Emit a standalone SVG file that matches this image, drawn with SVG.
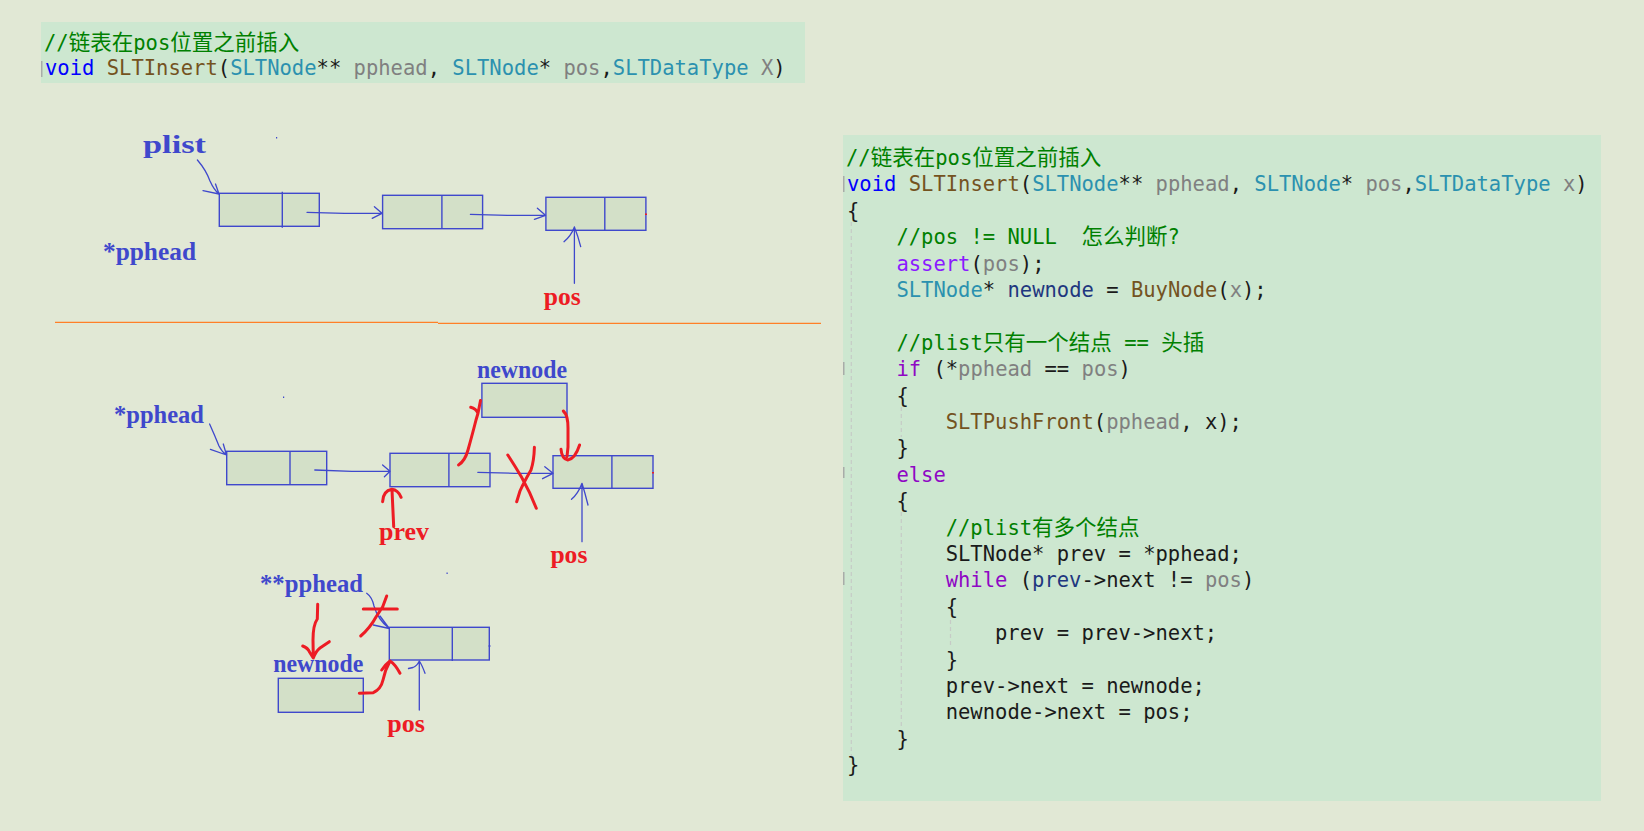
<svg xmlns="http://www.w3.org/2000/svg" width="1644" height="831" viewBox="0 0 1644 831">
<style>
.code{font-family:"DejaVu Sans Mono","Noto Sans CJK SC",monospace;font-size:20.5px;fill:#1a1a1a}
.cjk{font-family:"Noto Sans CJK SC",sans-serif;font-size:21.5px}
.cm{fill:#008000}.kw{fill:#0000ff}.ctl{fill:#8f08c4}.mac{fill:#8a1bff}.ty{fill:#2b91af}.fn{fill:#74531f}.pa{fill:#808080}.lo{fill:#1f377f}
.lbl{font-family:"Liberation Serif",serif;font-weight:bold;font-size:25px}
.blue{fill:#3f48cc}.red{fill:#ed1c24}
.node{fill:#d3e0c8;stroke:#3f48cc;stroke-width:1.4}
.div{stroke:#3f48cc;stroke-width:1.4}
.bl{fill:none;stroke:#3f48cc;stroke-width:1.3;stroke-linecap:round;stroke-linejoin:round}
.rd{fill:none;stroke:#ed1c24;stroke-width:3;stroke-linecap:round;stroke-linejoin:round}
.guide{stroke:#c6cbc6;stroke-width:1.2;stroke-dasharray:4 3}
.tick{fill:#a8aca8}
</style>
<rect width="1644" height="831" fill="#e1e8d5"/>

<!-- top-left code box -->
<g id="code-top">
<rect x="41" y="22" width="764" height="61" fill="#cde7d0"/>
<rect class="tick" x="41" y="61" width="1.5" height="16"/>
<text class="code" x="44" y="49.5" xml:space="preserve"><tspan class="cm">//<tspan class="cjk">链表在</tspan>pos<tspan class="cjk">位置之前插入</tspan></tspan></text>
<text class="code" x="45" y="75" xml:space="preserve"><tspan class="kw">void</tspan> <tspan class="fn">SLTInsert</tspan>(<tspan class="ty">SLTNode</tspan>** <tspan class="pa">pphead</tspan>, <tspan class="ty">SLTNode</tspan>* <tspan class="pa">pos</tspan>,<tspan class="ty">SLTDataType</tspan> <tspan class="pa">X</tspan>)</text>
</g>

<!-- right code box -->
<g id="code-right">
<rect x="843" y="135" width="758" height="666" fill="#cde7d0"/>
<line class="guide" x1="851.3" y1="222" x2="851.3" y2="756"/>
<line class="guide" x1="901.3" y1="407" x2="901.3" y2="437"/>
<line class="guide" x1="901.3" y1="512" x2="901.3" y2="728"/>
<line class="guide" x1="950.5" y1="620" x2="950.5" y2="645"/>
<rect class="tick" x="843" y="176" width="1.5" height="16"/>
<rect class="tick" x="843" y="362" width="1.5" height="13"/>
<rect class="tick" x="843" y="467" width="1.5" height="11"/>
<rect class="tick" x="843" y="572" width="1.5" height="13"/>
<text class="code" xml:space="preserve">
<tspan x="846" y="165" class="cm">//<tspan class="cjk">链表在</tspan>pos<tspan class="cjk">位置之前插入</tspan></tspan>
<tspan x="847" y="191.4"><tspan class="kw">void</tspan> <tspan class="fn">SLTInsert</tspan>(<tspan class="ty">SLTNode</tspan>** <tspan class="pa">pphead</tspan>, <tspan class="ty">SLTNode</tspan>* <tspan class="pa">pos</tspan>,<tspan class="ty">SLTDataType</tspan> <tspan class="pa">x</tspan>)</tspan>
<tspan x="847" y="217.8">{</tspan>
<tspan x="896.4" y="244.2" class="cm">//pos != NULL  <tspan class="cjk">怎么判断</tspan>?</tspan>
<tspan x="896.4" y="270.6"><tspan class="mac">assert</tspan>(<tspan class="pa">pos</tspan>);</tspan>
<tspan x="896.4" y="297"><tspan class="ty">SLTNode</tspan>* <tspan class="lo">newnode</tspan> = <tspan class="fn">BuyNode</tspan>(<tspan class="pa">x</tspan>);</tspan>
<tspan x="896.4" y="349.8" class="cm">//plist<tspan class="cjk">只有一个结点</tspan> == <tspan class="cjk">头插</tspan></tspan>
<tspan x="896.4" y="376.2"><tspan class="ctl">if</tspan> (*<tspan class="pa">pphead</tspan> == <tspan class="pa">pos</tspan>)</tspan>
<tspan x="896.4" y="402.6">{</tspan>
<tspan x="945.7" y="429"><tspan class="fn">SLTPushFront</tspan>(<tspan class="pa">pphead</tspan>, x);</tspan>
<tspan x="896.4" y="455.4">}</tspan>
<tspan x="896.4" y="481.8" class="ctl">else</tspan>
<tspan x="896.4" y="508.2">{</tspan>
<tspan x="945.7" y="534.6" class="cm">//plist<tspan class="cjk">有多个结点</tspan></tspan>
<tspan x="945.7" y="561">SLTNode* prev = *pphead;</tspan>
<tspan x="945.7" y="587.4"><tspan class="ctl">while</tspan> (<tspan class="lo">prev</tspan>-&gt;next != <tspan class="pa">pos</tspan>)</tspan>
<tspan x="945.7" y="613.8">{</tspan>
<tspan x="995" y="640.2">prev = prev-&gt;next;</tspan>
<tspan x="945.7" y="666.6">}</tspan>
<tspan x="945.7" y="693">prev-&gt;next = newnode;</tspan>
<tspan x="945.7" y="719.4">newnode-&gt;next = pos;</tspan>
<tspan x="896.4" y="745.8">}</tspan>
<tspan x="847" y="772.2">}</tspan>
</text>
</g>

<!-- separator -->
<g id="separator">
<line x1="55" y1="322.3" x2="438" y2="322.3" stroke="#ff7f27" stroke-width="1.3"/>
<line x1="438" y1="323.3" x2="821" y2="323.3" stroke="#ff7f27" stroke-width="1.3"/>
</g>

<!-- top diagram nodes -->
<g id="t-node1"><rect class="node" x="219.3" y="193.3" width="100" height="33"/><line class="div" x1="282.3" y1="191.7" x2="282.3" y2="227.7"/></g>
<g id="t-node2"><rect class="node" x="382.6" y="195.3" width="100" height="33.4"/><line class="div" x1="441.9" y1="195.3" x2="441.9" y2="228.7"/></g>
<g id="t-node3"><rect class="node" x="545.9" y="197.3" width="100" height="33"/><line class="div" x1="604.8" y1="197.3" x2="604.8" y2="230.3"/><rect x="645" y="213.5" width="2" height="1.5" fill="#ed1c24"/></g>
<g id="t-labels">
<text class="lbl blue" x="143" y="153" textLength="63" lengthAdjust="spacingAndGlyphs">plist</text>
<text class="lbl blue" x="103" y="260" textLength="93" lengthAdjust="spacingAndGlyphs">*pphead</text>
<text class="lbl red" x="543.7" y="305" textLength="37" lengthAdjust="spacingAndGlyphs">pos</text>
<rect x="276" y="137" width="1.2" height="1.5" fill="#3f48cc"/>
</g>

<!-- middle diagram nodes -->
<g id="m-nodeA"><rect class="node" x="226.7" y="451.3" width="100" height="33.4"/><line class="div" x1="290" y1="451.3" x2="290" y2="484.7"/></g>
<g id="m-nodeB"><rect class="node" x="390" y="453.3" width="100" height="33.4"/><line class="div" x1="448.9" y1="453.3" x2="448.9" y2="486.7"/></g>
<g id="m-nodeC"><rect class="node" x="553" y="455.7" width="100" height="32.6"/><line class="div" x1="611.9" y1="455.7" x2="611.9" y2="488.3"/><rect x="652" y="472" width="2" height="1.5" fill="#ed1c24"/></g>
<g id="m-newnode"><rect class="node" x="481.9" y="383.3" width="85.1" height="34"/></g>
<g id="m-labels">
<text class="lbl blue" x="477" y="377.5" textLength="90" lengthAdjust="spacingAndGlyphs">newnode</text>
<text class="lbl blue" x="114" y="422.5" textLength="90" lengthAdjust="spacingAndGlyphs">*pphead</text>
<text class="lbl red" x="379" y="540" textLength="50" lengthAdjust="spacingAndGlyphs">prev</text>
<text class="lbl red" x="550.4" y="562.5" textLength="37" lengthAdjust="spacingAndGlyphs">pos</text>
<rect x="283" y="396.5" width="1.2" height="1.5" fill="#3f48cc"/>
<rect x="446.5" y="572.5" width="1.2" height="1.5" fill="#3f48cc"/>
</g>

<!-- bottom diagram nodes -->
<g id="b-node"><rect class="node" x="389.3" y="627.3" width="100" height="32.7"/><line class="div" x1="452.3" y1="627.3" x2="452.3" y2="661"/><line class="div" x1="488.5" y1="646" x2="490.5" y2="646"/></g>
<g id="b-newnode"><rect class="node" x="278.3" y="678.3" width="85" height="34"/></g>
<g id="b-labels">
<text class="lbl blue" x="260" y="592.3" textLength="103" lengthAdjust="spacingAndGlyphs">**pphead</text>
<text class="lbl blue" x="273.3" y="672" textLength="90" lengthAdjust="spacingAndGlyphs">newnode</text>
<text class="lbl red" x="387.3" y="731.7" textLength="37.7" lengthAdjust="spacingAndGlyphs">pos</text>
</g>

<!-- connectors -->
<g id="connectors">
<!-- top -->
<path class="bl" d="M197.4,160 Q206,170 210,181 Q214,190 219,194 M203,190.7 L219,194 L215.5,184"/>
<path class="bl" d="M307,212.3 L344.4,213.3 L382,213.3 M374.4,206.7 L382,213.3 L372.2,218.3"/>
<path class="bl" d="M470.4,214.3 L507.4,215.3 L545.5,215.3 M537.4,208.3 L545.5,215.3 L534.4,219.3"/>
<path class="bl" d="M574.4,283.3 L574.4,227 M564,241.7 Q571,236 574.4,227 Q578,236 580.7,246.7"/>
<!-- middle -->
<path class="bl" d="M209.6,424 Q215,436 219,446 Q222,452 226.5,455 M210.4,449.3 L226.5,455 L223.3,444"/>
<path class="bl" d="M314.8,470 L351.9,471.3 L390,471.3 M382.6,465 L390,471.3 L384.4,476.7"/>
<path class="bl" d="M477.8,472.3 L514.8,473.3 L553,473.3 M544.8,466.7 L553,473.3 L542.6,478.7"/>
<path class="bl" d="M582,541.7 L582,483.3 M571.5,499.3 Q578,494 582,483.3 Q585,493 588,505"/>
<!-- bottom -->
<path class="bl" d="M366.7,593.3 Q372,597 374,606 Q378,620 389.3,628.5 M373.3,625 L389.3,628.5 M380,616 L389.3,628.5"/>
<path class="bl" d="M419.3,710 L419.3,661 M408.5,668.5 L413,667.5 Q417,666 419.3,661 Q422,665 425,673.3"/>
<!-- red marks -->
<path class="rd" d="M393.7,526.7 L392,490 M382.6,501.7 Q383,491 391.9,489.3 Q398,490 401.1,497.3"/>
<path class="rd" d="M458.5,465 Q465,461 468,450 Q473,432 476,420 L478,413.3 M470.7,407.3 Q476,408.5 478,413.3 L480.5,400.5"/>
<path class="rd" d="M563.3,411 Q568,415 568,428 L568,447 L567,456.7 M561,449.3 Q562,459 567.8,460 Q575,459 579.6,445"/>
<path class="rd" d="M507.8,455 Q515,466 521.5,477 Q530,492 536.3,508.3 M534.4,447.3 Q534,461 531,470 Q524,482 520,491 L516.7,501.7"/>
<path class="rd" d="M317.7,604.3 L317.3,619 Q313,625 313,640 L313.3,658 M302.7,646 Q308,648 309.5,652 L313.3,658 Q316,651 320,648 L329.3,641.7"/>
<path class="rd" d="M363.3,609 L397.3,609 M360.7,636 Q370,628 376,617 L382.7,606.7 L386.7,596"/>
<path class="rd" d="M359.3,693.3 L373.3,692.7 Q381,689 383,680 Q385,670 390,661 M381.7,670 Q386,664 390,661 Q395,664 400,673.3"/>
</g>
</svg>
